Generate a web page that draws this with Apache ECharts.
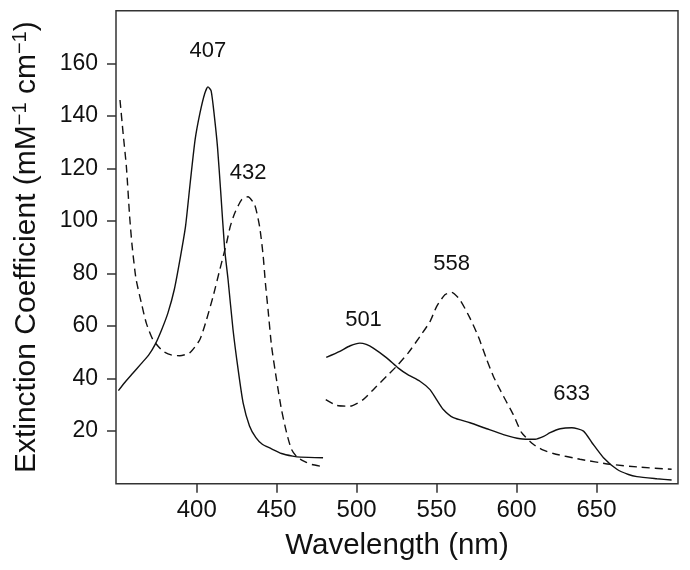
<!DOCTYPE html>
<html>
<head>
<meta charset="utf-8">
<script src="https://cdn.jsdelivr.net/npm/echarts@6/dist/echarts.min.js"></script>
<style>html,body{margin:0;padding:0;background:#fff}#c{width:690px;height:570px}</style>
</head>
<body>
<div id="c"></div>
<script>
// Wavelength (nm), extinction coefficient (mM^-1 cm^-1)
var solidSoret = [[351,35.4],[355,38.5],[360,42],[365,45.5],[370,49],[374,53],[378,58.5],[382,65],[386,74],[390,87],[393,98],[396,115],[399,131],[402,141],[405,148.5],[407,151],[409,149.5],[411,140],[413,128],[415,111],[417.5,89],[419.6,77.6],[422.7,58.6],[425.9,43.4],[429,30.8],[433,22],[437,17.5],[441,15],[446,13.5],[453,11.5],[460,10.5],[465,10.1],[479,9.9]];
var dashedSoret = [[352,146],[354,133],[356,120.6],[358,102],[359.5,91],[362,78],[365.4,68.7],[368.5,61],[372.6,54.8],[378.9,50.4],[384,49],[389.4,48.7],[395.6,49.8],[401.9,54.8],[406.1,62.4],[410.2,71.2],[414.4,81.4],[418.6,91.5],[421,98],[423.8,103],[428,108],[432,109.2],[436.3,106],[439.4,97.5],[441.5,87],[443,76],[444.6,66.2],[446.8,52.3],[449.9,39.6],[453,28.2],[456.2,19.4],[459.3,13],[463,10],[467.6,8.4],[472,7.3],[479,6.5]];
var solidQ = [[481,48.1],[489.5,50.4],[496,52.5],[502,53.5],[506,53],[510.4,51.6],[518.8,47.9],[526.1,44],[532,41.5],[539.6,39],[545.9,35.8],[550,32],[554.2,28.2],[560.5,25.1],[570.9,23.2],[581.4,20.9],[591.8,18.7],[602.3,17.1],[611.6,16.9],[617,18],[621,19.4],[627.3,20.9],[634.6,21.3],[641.9,20],[647.2,15.6],[654.4,9.9],[662.8,5.5],[670,3.5],[675.3,2.7],[687.8,1.9],[697,1.4]];
var dashedQ = [[480.7,32],[487.5,29.8],[495.8,29.5],[504.1,32],[512.5,37.1],[518.8,40.9],[525,44.7],[532.3,49.8],[539.6,56],[545.9,61.7],[550,67.4],[555.2,71.9],[559.4,72.8],[564.6,70],[570.9,63],[576.1,56],[581.4,47.2],[585.5,40.9],[591.8,33.3],[598,26.3],[603.2,19.4],[610.5,15],[616,13],[623,11.5],[639.7,9.3],[658.5,7.4],[677.2,6.3],[697,5.5]];
var peakLabels = [[406.9,164.6,'407'],[432.2,118.4,'432'],[504.3,62.2,'501'],[559.4,83.5,'558'],[634.5,34.1,'633']];
var xTicks = [400,450,500,550,600,650];
var yTicks = [20,40,60,80,100,120,140,160];

var FONT = '"Liberation Sans", Arial, sans-serif';
var chart = echarts.init(document.getElementById('c'));
function lineSeries(data, dashed) {
  return {
    type: 'line', data: data, symbol: 'none', smooth: 0.2,
    lineStyle: { color: '#111', width: 1.4, type: dashed ? [8, 5] : 'solid' },
    silent: true, z: 3
  };
}
chart.setOption({
  animation: false,
  grid: { left: 116, right: 12, top: 10.7, bottom: 86.3, show: true, borderColor: '#333', borderWidth: 1.5 },
  xAxis: {
    type: 'value', min: 349.5, max: 701,
    name: 'Wavelength (nm)', nameLocation: 'middle', nameGap: 47,
    nameTextStyle: { fontSize: 29.5, color: '#111', fontFamily: FONT },
    axisLine: { show: false },
    axisTick: { show: true, length: 9, inside: false, lineStyle: { color: '#333', width: 1.5 }, customValues: xTicks },
    axisLabel: { fontSize: 24, color: '#111', fontFamily: FONT, margin: 15, customValues: xTicks },
    splitLine: { show: false }
  },
  yAxis: {
    type: 'value', min: 0, max: 180,
    name: 'Extinction Coefficient (mM{sup|−1} cm{sup|−1})', nameLocation: 'middle', nameGap: 72,
    nameTextStyle: { fontSize: 30, color: '#111', fontFamily: FONT, lineHeight: 34,
      rich: { sup: { fontSize: 20, color: '#111', fontFamily: FONT, verticalAlign: 'top', lineHeight: 34 } } },
    axisLine: { show: false },
    axisTick: { show: true, length: 9, inside: false, lineStyle: { color: '#333', width: 1.5 }, customValues: yTicks },
    axisLabel: { fontSize: 23, color: '#111', fontFamily: FONT, margin: 18, customValues: yTicks },
    splitLine: { show: false }
  },
  series: [
    lineSeries(solidSoret, false),
    lineSeries(solidQ, false),
    lineSeries(dashedSoret, true),
    lineSeries(dashedQ, true),
    {
      type: 'scatter', data: peakLabels, symbolSize: 0, silent: true,
      itemStyle: { opacity: 1 },
      label: { show: true, position: 'inside', formatter: function (p) { return p.value[2]; },
        fontSize: 22, color: '#111', fontFamily: FONT, opacity: 1 }
    }
  ]
});
</script>
</body>
</html>
